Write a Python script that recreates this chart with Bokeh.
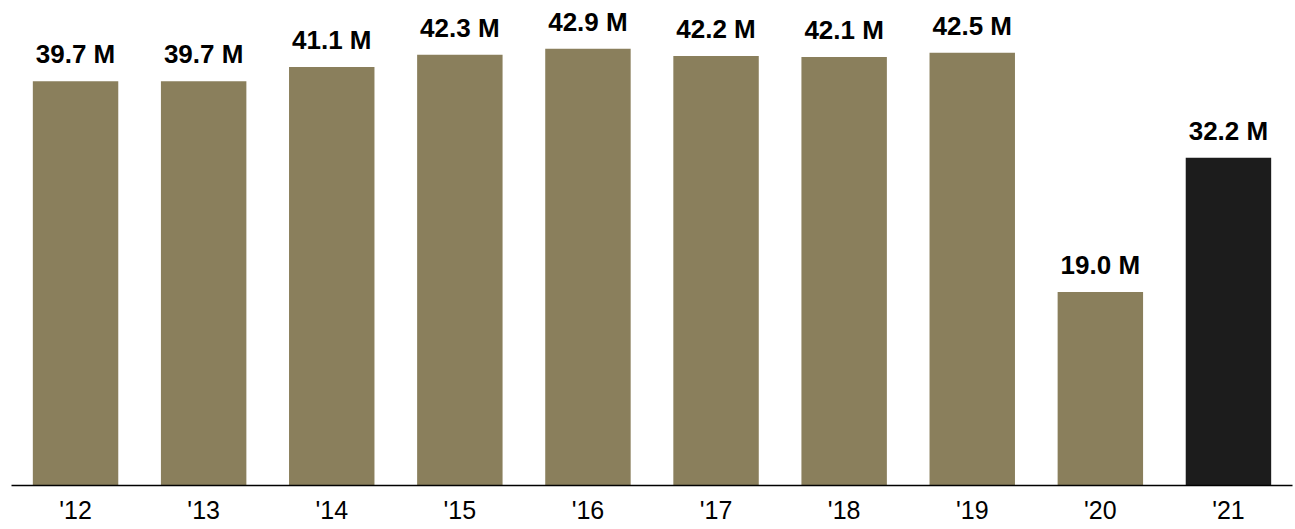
from bokeh.plotting import figure
from bokeh.models import ColumnDataSource, LabelSet, Range1d, FactorRange
from bokeh.core.properties import value
from bokeh.embed import file_html
from bokeh.resources import INLINE

years = ["'12", "'13", "'14", "'15", "'16", "'17", "'18", "'19", "'20", "'21"]
values = [39.7, 39.7, 41.1, 42.3, 42.9, 42.2, 42.1, 42.5, 19.0, 32.2]
labels = ["39.7 M", "39.7 M", "41.1 M", "42.3 M", "42.9 M", "42.2 M", "42.1 M", "42.5 M", "19.0 M", "32.2 M"]
colors = ["#8a7f5c"] * 9 + ["#1c1c1c"]

FONT = "Liberation Sans"

src = ColumnDataSource(dict(x=years, top=values, label=labels, color=colors))

p = figure(x_range=FactorRange(*years, range_padding=0), y_range=Range1d(0, 47.64),
           frame_width=1281, frame_height=485,
           min_border_left=11, min_border_right=3, min_border_top=0, min_border_bottom=44,
           output_backend="svg", toolbar_location=None)

p.vbar(x="x", top="top", width=0.667, color="color", source=src, line_color=None)

p.add_layout(LabelSet(x="x", y="top", text="label", source=src, text_align="center",
                      text_baseline="alphabetic", y_offset=18, text_font=value(FONT),
                      text_font_style="bold", text_font_size="26px", text_color="#000000"))

p.yaxis.visible = False
p.xgrid.visible = False
p.ygrid.visible = False
p.outline_line_color = None
xa = p.xaxis[0]
xa.axis_line_color = "#000000"
xa.axis_line_width = 1.5
xa.major_tick_line_color = None
xa.minor_tick_line_color = None
xa.major_tick_out = 0
xa.major_label_standoff = 10
xa.major_label_text_font = FONT
xa.major_label_text_font_size = "25px"
xa.major_label_text_color = "#000000"

open("out.html", "w").write(file_html(p, INLINE))
